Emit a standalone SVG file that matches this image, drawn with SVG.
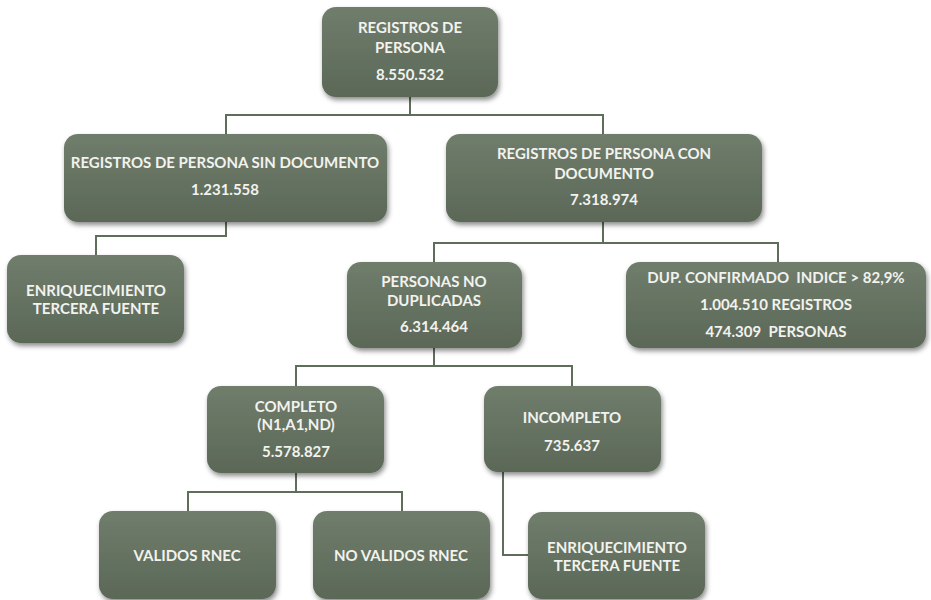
<svg xmlns="http://www.w3.org/2000/svg" width="931" height="600" viewBox="0 0 931 600">
<defs>
<linearGradient id="g" x1="0" y1="0" x2="0" y2="1">
<stop offset="0" stop-color="#707d6c"/>
<stop offset="1" stop-color="#5b6857"/>
</linearGradient>
<filter id="sh" x="-10%" y="-10%" width="125%" height="135%">
<feDropShadow dx="1.5" dy="3" stdDeviation="2.5" flood-color="#000" flood-opacity="0.45"/>
</filter>
</defs>
<style>
.box{fill:url(#g);filter:url(#sh);}
.t{font-family:Lato,"Open Sans","DejaVu Sans",sans-serif;font-weight:bold;font-size:15px;fill:#f2f2ee;text-anchor:middle;}
.c{fill:none;stroke:#5f6e5a;stroke-width:2;}
</style>
<rect width="931" height="600" fill="#ffffff"/>
<g id="connectors">
<path class="c" d="M410,97 V115 M226,134 V115 H603 V134"/>
<path class="c" d="M226,222 V236 H96 V255"/>
<path class="c" d="M603,222 V243 H434 V262 M603,243 H778 V262"/>
<path class="c" d="M434,348 V366 H296 V386 M434,366 H572 V386"/>
<path class="c" d="M296,473 V492 H188 V511 M296,492 H402 V511"/>
<path class="c" d="M503,472 V555 H528"/>
</g>
<g id="n1"><rect class="box" x="322" y="7" width="176" height="90" rx="14"/>
<text class="t" x="410" y="33">REGISTROS DE</text><text class="t" x="410" y="53">PERSONA</text><text class="t" x="410" y="80">8.550.532</text></g>
<g id="n2"><rect class="box" x="64" y="134" width="323" height="88" rx="14"/>
<text class="t" x="225" y="168">REGISTROS DE PERSONA SIN DOCUMENTO</text><text class="t" x="225" y="195">1.231.558</text></g>
<g id="n3"><rect class="box" x="446" y="134" width="316" height="88" rx="14"/>
<text class="t" x="604" y="159">REGISTROS DE PERSONA CON</text><text class="t" x="604" y="179">DOCUMENTO</text><text class="t" x="604" y="205">7.318.974</text></g>
<g id="n4"><rect class="box" x="7" y="255" width="177" height="88" rx="14"/>
<text class="t" x="96" y="296">ENRIQUECIMIENTO</text><text class="t" x="96" y="314">TERCERA FUENTE</text></g>
<g id="n5"><rect class="box" x="347" y="262" width="175" height="86" rx="14"/>
<text class="t" x="434" y="287">PERSONAS NO</text><text class="t" x="434" y="306">DUPLICADAS</text><text class="t" x="434" y="332">6.314.464</text></g>
<g id="n6"><rect class="box" x="626" y="262" width="300" height="86" rx="14"/>
<text class="t" x="776" y="283" xml:space="preserve">DUP. CONFIRMADO  INDICE &gt; 82,9%</text><text class="t" x="776" y="310">1.004.510 REGISTROS</text><text class="t" x="776" y="337" xml:space="preserve">474.309  PERSONAS</text></g>
<g id="n7"><rect class="box" x="207" y="386" width="177" height="87" rx="14"/>
<text class="t" x="296" y="412">COMPLETO</text><text class="t" x="296" y="430">(N1,A1,ND)</text><text class="t" x="296" y="457">5.578.827</text></g>
<g id="n8"><rect class="box" x="484" y="386" width="177" height="86" rx="14"/>
<text class="t" x="572" y="423">INCOMPLETO</text><text class="t" x="572" y="451">735.637</text></g>
<g id="n9"><rect class="box" x="99" y="511" width="177" height="88" rx="14"/>
<text class="t" x="187" y="561">VALIDOS RNEC</text></g>
<g id="n10"><rect class="box" x="313" y="511" width="177" height="88" rx="14"/>
<text class="t" x="401" y="561">NO VALIDOS RNEC</text></g>
<g id="n11"><rect class="box" x="528" y="512" width="177" height="87" rx="14"/>
<text class="t" x="617" y="553">ENRIQUECIMIENTO</text><text class="t" x="617" y="571">TERCERA FUENTE</text></g>
</svg>
